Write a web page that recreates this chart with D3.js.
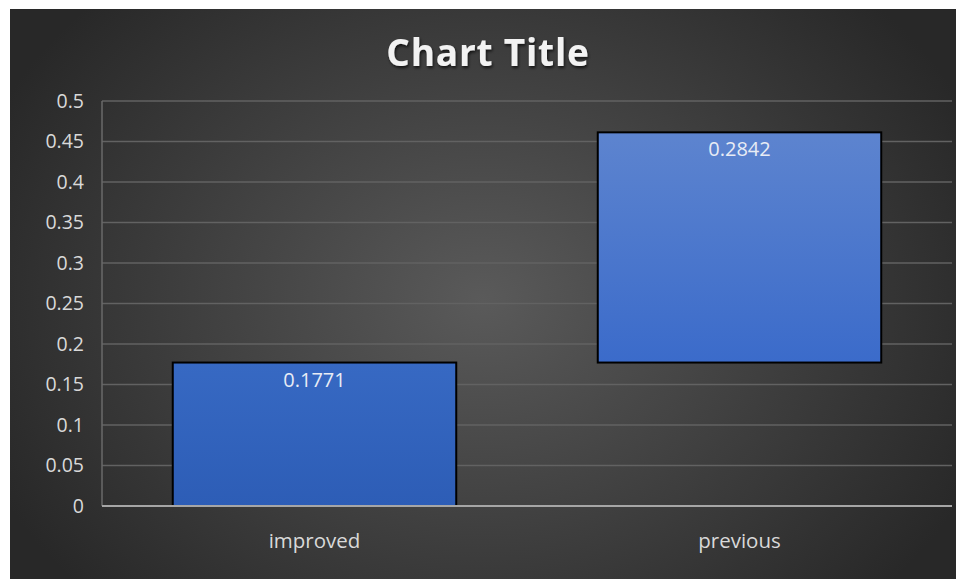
<!DOCTYPE html>
<html>
<head>
<meta charset="utf-8">
<script src="https://cdn.jsdelivr.net/npm/d3@7"></script>
<style>
  html, body { margin: 0; padding: 0; background: #ffffff; }
  svg { display: block; }
</style>
</head>
<body>
<svg id="chart" width="956" height="579"></svg>
<script>
// Waterfall data: each step floats on the running total of the previous ones
const categories = ["improved", "previous"];
const values = [0.1771, 0.2842];
const valueLabels = ["0.1771", "0.2842"];
const yTicks = [0, 0.05, 0.1, 0.15, 0.2, 0.25, 0.3, 0.35, 0.4, 0.45, 0.5];
const yTickLabels = ["0", "0.05", "0.1", "0.15", "0.2", "0.25", "0.3", "0.35", "0.4", "0.45", "0.5"];
const chartTitle = "Chart Title";

const W = 956, H = 579;
const panel = { x: 10, y: 9, w: 946, h: 570 };
const plot = { left: 102, right: 952, top: 101, bottom: 506 };
const FONT = "'Open Sans', 'Noto Sans', sans-serif";

const svg = d3.select("#chart");
const defs = svg.append("defs");

// Panel background: dark radial shading, lighter in the middle
const bg = defs.append("radialGradient")
  .attr("id", "bgGrad")
  .attr("gradientUnits", "userSpaceOnUse")
  .attr("cx", 483).attr("cy", 300).attr("r", 540)
  .attr("gradientTransform", "translate(483,300) scale(1,0.8) translate(-483,-300)");
bg.append("stop").attr("offset", "0%").attr("stop-color", "#5a5a5a");
bg.append("stop").attr("offset", "100%").attr("stop-color", "#282828");

// Bar fills: vertical blue gradients
const barFills = [
  { top: "#3769c3", bottom: "#2d5db6" },
  { top: "#5d84cf", bottom: "#3b6bca" }
];
barFills.forEach((c, i) => {
  const g = defs.append("linearGradient")
    .attr("id", "barGrad" + i)
    .attr("x1", 0).attr("y1", 0).attr("x2", 0).attr("y2", 1);
  g.append("stop").attr("offset", "0%").attr("stop-color", c.top);
  g.append("stop").attr("offset", "100%").attr("stop-color", c.bottom);
});

// Soft shadow for the title
const shadow = defs.append("filter").attr("id", "titleShadow")
  .attr("x", "-10%").attr("y", "-30%").attr("width", "120%").attr("height", "160%");
shadow.append("feDropShadow")
  .attr("dx", 1).attr("dy", 2).attr("stdDeviation", 1.5)
  .attr("flood-color", "#000").attr("flood-opacity", 0.7);

svg.append("rect")
  .attr("x", panel.x).attr("y", panel.y)
  .attr("width", panel.w).attr("height", panel.h)
  .attr("fill", "url(#bgGrad)");

const x = d3.scaleBand()
  .domain(categories)
  .range([plot.left, plot.right])
  .paddingInner(0.333)
  .paddingOuter(0.1665);

const y = d3.scaleLinear()
  .domain([0, 0.5])
  .range([plot.bottom, plot.top]);

// Gridlines
svg.append("g")
  .selectAll("line")
  .data(yTicks.filter(t => t > 0))
  .join("line")
  .attr("x1", plot.left).attr("x2", plot.right)
  .attr("y1", d => y(d)).attr("y2", d => y(d))
  .attr("stroke", "#626262")
  .attr("stroke-width", 1.5);

// Y axis (labels only, plus a faint axis line)
const yAxis = d3.axisLeft(y)
  .tickValues(yTicks)
  .tickFormat((d, i) => yTickLabels[i])
  .tickSize(0)
  .tickPadding(0);

const yG = svg.append("g")
  .attr("transform", `translate(${plot.left - 18},0)`)
  .call(yAxis);
yG.select(".domain").remove();
yG.selectAll("text")
  .attr("fill", "#d9d9d9")
  .attr("font-family", FONT)
  .attr("font-size", 19.5);

svg.append("line")
  .attr("x1", plot.left).attr("x2", plot.left)
  .attr("y1", plot.top).attr("y2", plot.bottom)
  .attr("stroke", "#6a6a6a").attr("stroke-width", 1.5);

// Running totals for the floating bars
let running = 0;
const bars = categories.map((c, i) => {
  const start = running;
  running += values[i];
  return { cat: c, start, end: running, label: valueLabels[i], i };
});

svg.append("g")
  .selectAll("rect")
  .data(bars)
  .join("rect")
  .attr("x", d => x(d.cat))
  .attr("width", x.bandwidth())
  .attr("y", d => y(d.end))
  .attr("height", d => y(d.start) - y(d.end))
  .attr("fill", d => `url(#barGrad${d.i})`)
  .attr("stroke", "#000")
  .attr("stroke-width", 2);

// Value labels inside the top of each bar
svg.append("g")
  .selectAll("text")
  .data(bars)
  .join("text")
  .attr("x", d => x(d.cat) + x.bandwidth() / 2)
  .attr("y", d => y(d.end) + 24)
  .attr("text-anchor", "middle")
  .attr("fill", "#e8ecf5")
  .attr("font-family", FONT)
  .attr("font-size", 20)
  .text(d => d.label);

// X axis baseline
svg.append("line")
  .attr("x1", plot.left).attr("x2", plot.right)
  .attr("y1", plot.bottom).attr("y2", plot.bottom)
  .attr("stroke", "#a6a6a6").attr("stroke-width", 2);

const xAxis = d3.axisBottom(x).tickSize(0).tickPadding(0);
const xG = svg.append("g")
  .attr("transform", `translate(0,${plot.bottom + 42})`)
  .call(xAxis);
xG.select(".domain").remove();
xG.selectAll("text")
  .attr("dy", 0)
  .attr("fill", "#d9d9d9")
  .attr("font-family", FONT)
  .attr("font-size", 20.5);

// Title
svg.append("text")
  .attr("x", 488)
  .attr("y", 66)
  .attr("text-anchor", "middle")
  .attr("fill", "#f2f2f2")
  .attr("font-family", FONT)
  .attr("font-weight", "bold")
  .attr("font-size", 37)
  .attr("letter-spacing", 0.8)
  .attr("filter", "url(#titleShadow)")
  .text(chartTitle);
</script>
</body>
</html>
